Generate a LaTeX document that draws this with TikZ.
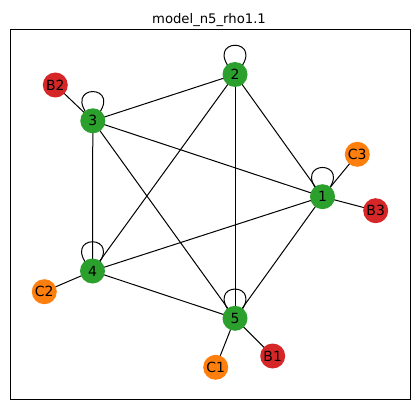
\documentclass[tikz,border=0pt]{standalone}
\usepackage{fontspec}
\setmainfont{DejaVu Sans}
\usetikzlibrary{backgrounds}
\definecolor{cgreen}{HTML}{2CA02C}
\definecolor{cred}{HTML}{D62728}
\definecolor{corange}{HTML}{FF7F0E}
\begin{document}
\begin{tikzpicture}[x=1pt,y=-1pt,
  vtx/.style={circle,minimum size=25pt,inner sep=0pt,font=\fontsize{14}{16}\selectfont},
  core/.style={vtx,fill=cgreen},
  bnode/.style={vtx,fill=cred},
  cnode/.style={vtx,fill=corange},
  edge/.style={line width=1pt,black},
  selfloop/.style={edge}]
\useasboundingbox (0,0) rectangle (420,409);
\draw[line width=0.9pt] (10.5,29.3) rectangle (410,399.3);
\node[font=\fontsize{13.2}{15}\selectfont,anchor=base] (title) at (209,23.3) {model\_n5\_rho1.1};
\node[core] (n1) at (322.5,196.7) {1};
\node[core] (n2) at (235,74.5) {2};
\node[core] (n3) at (92.8,120.8) {3};
\node[core] (n4) at (92.5,271) {4};
\node[core] (n5) at (235,318.3) {5};
\node[bnode] (B1) at (272.7,356) {B1};
\node[bnode] (B2) at (55.3,85) {B2};
\node[bnode] (B3) at (375.7,210.7) {B3};
\node[cnode] (C1) at (215.7,367.3) {C1};
\node[cnode] (C2) at (44.3,291.7) {C2};
\node[cnode] (C3) at (357.3,154.3) {C3};
\begin{scope}[on background layer]
\foreach \a/\b in {n1/n2,n1/n3,n1/n4,n1/n5,n2/n3,n2/n4,n2/n5,n3/n4,n3/n5,n4/n5,
                   n3/B2,n1/C3,n1/B3,n4/C2,n5/C1,n5/B1}
  \draw[edge] (\a.center) -- (\b.center);
\foreach \n in {n1,n2,n3,n4,n5}
  \draw[selfloop] (\n.center) .. controls +(-38,-39) and +(38,-39) .. (\n.center);
\end{scope}
\end{tikzpicture}
\end{document}
